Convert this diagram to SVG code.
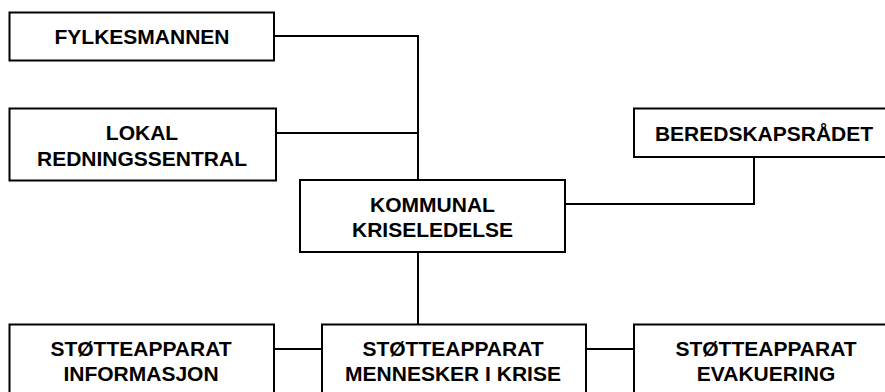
<svg xmlns="http://www.w3.org/2000/svg" width="885" height="392" viewBox="0 0 885 392">
  <style>
    .box { fill: #ffffff; stroke: #000000; stroke-width: 2; }
    .link { fill: none; stroke: #000000; stroke-width: 2; }
    .label { font-family: "Liberation Sans", Arial, sans-serif; font-weight: bold; font-size: 21px; fill: #000000; text-anchor: middle; }
  </style>
  <rect width="885" height="392" fill="#ffffff"/>

  <g id="connectors">
    <polyline class="link" points="274,36 418,36 418,180"/>
    <line class="link" x1="276" y1="133" x2="418" y2="133"/>
    <polyline class="link" points="565,204 754,204 754,157"/>
    <line class="link" x1="418" y1="252" x2="418" y2="324"/>
    <line class="link" x1="274" y1="349" x2="322" y2="349"/>
    <line class="link" x1="586" y1="349" x2="634" y2="349"/>
  </g>

  <g id="fylkesmannen">
    <rect class="box" x="9.5" y="12.5" width="264.5" height="48"/>
    <text class="label" x="142" y="43.5">FYLKESMANNEN</text>
  </g>

  <g id="lokal-redningssentral">
    <rect class="box" x="9.5" y="108.5" width="266.5" height="72"/>
    <text class="label" x="142" y="139.5">LOKAL</text>
    <text class="label" x="142" y="165.5">REDNINGSSENTRAL</text>
  </g>

  <g id="beredskapsraadet">
    <rect class="box" x="634" y="108.5" width="262" height="48.5"/>
    <text class="label" x="764" y="140.5">BEREDSKAPSRÅDET</text>
  </g>

  <g id="kommunal-kriseledelse">
    <rect class="box" x="300" y="180" width="265" height="72"/>
    <text class="label" x="432.5" y="211.5">KOMMUNAL</text>
    <text class="label" x="432.5" y="237">KRISELEDELSE</text>
  </g>

  <g id="stotte-informasjon">
    <rect class="box" x="9.5" y="324.5" width="264.5" height="72"/>
    <text class="label" x="141" y="356">STØTTEAPPARAT</text>
    <text class="label" x="141" y="380.5">INFORMASJON</text>
  </g>

  <g id="stotte-mennesker">
    <rect class="box" x="322" y="324.5" width="264" height="72"/>
    <text class="label" x="453" y="356">STØTTEAPPARAT</text>
    <text class="label" x="453" y="380.5">MENNESKER I KRISE</text>
  </g>

  <g id="stotte-evakuering">
    <rect class="box" x="634" y="324.5" width="264" height="72"/>
    <text class="label" x="766" y="356">STØTTEAPPARAT</text>
    <text class="label" x="766" y="380.5">EVAKUERING</text>
  </g>
</svg>
